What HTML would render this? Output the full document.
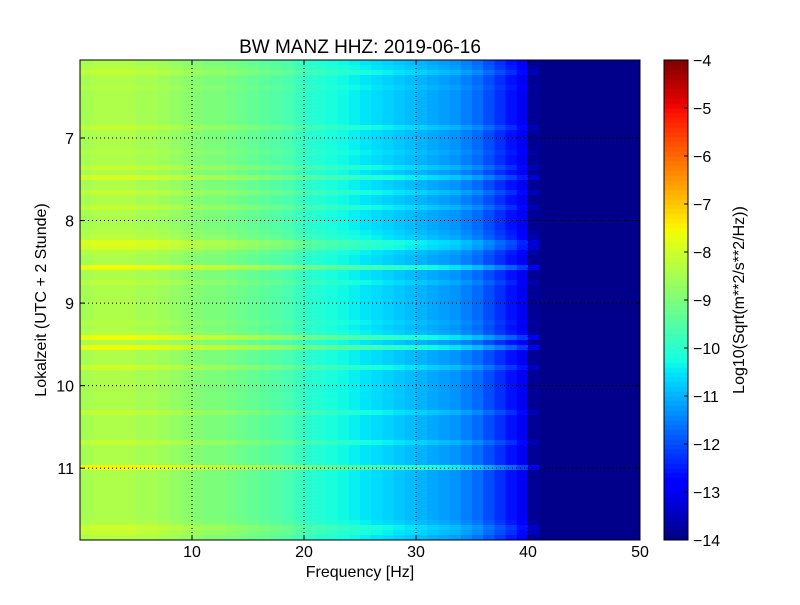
<!DOCTYPE html>
<html><head><meta charset="utf-8"><style>
body{margin:0;background:#fff;font-family:"Liberation Sans",sans-serif}
svg text{font-family:"Liberation Sans",sans-serif}
</style></head><body>
<svg id="chart" width="800" height="600" xmlns="http://www.w3.org/2000/svg">
<rect width="800" height="600" fill="#fff"/>
<text x="360" y="53" font-size="19" text-anchor="middle">BW MANZ HHZ: 2019-06-16</text>
<g id="heat"></g>
<g id="grid"></g>
<rect x="80" y="60" width="560" height="480" fill="none" stroke="#000"/>
<g id="axes"></g>
<text x="360" y="577" font-size="16" text-anchor="middle">Frequency [Hz]</text>
<text transform="translate(46,300) rotate(-90)" font-size="16" text-anchor="middle">Lokalzeit (UTC + 2 Stunde)</text>
<g id="cbar"></g>
<text transform="translate(744,300) rotate(-90)" font-size="16" text-anchor="middle">Log10(Sqrt(m**2/s**2/Hz))</text>
</svg>
<script>
const freqBins=[-8.5,-8.4,-8.4,-8.4,-8.4,-8.5,-8.5,-8.6,-8.7,-8.8,
-8.9,-9.0,-9.0,-9.1,-9.2,-9.3,-9.4,-9.5,-9.6,-9.8,
-10.0,-10.1,-10.2,-10.3,-10.4,-10.5,-10.6,-10.7,-10.8,-10.9,
-11.0,-11.1,-11.2,-11.3,-11.5,-11.7,-12.0,-12.3,-12.6,-13.0,
-13.8,-13.9,-13.9,-13.9,-13.9,-13.9,-13.9,-13.9,-13.9,-13.9];
const rowOffsets=[0,0.1,0.3,0,0,0.1,0,0,0,0,0,0,0,0.3,0,0,0,0,0.1,0,0,0.3,0,0.5,0,0,0.3,0,0,0.3,
0,0,0,0,0.1,0.2,0.6,0.5,0.1,0,0,0.8,0,0,0.2,0,0,0,0,0,0,0,0.1,0,0.1,0.8,0,0.8,0,0,
0,0.4,0,0,0,0,0,0,0,0,0.3,0,0,0,0,0,0.3,0,0,0,0,0.9,0,0,0,0,0,0,0,0,
0,0,0.1,0.4,0.3,0.1];
const xTicks=[10,20,30,40,50];
const yTicks=[7,8,9,10,11];
const cTicks=[-4,-5,-6,-7,-8,-9,-10,-11,-12,-13,-14];
const xMin=0,xMax=50,yMin=6.055,yMax=11.87,cMin=-14,cMax=-4;
const X=f=>80+(f-xMin)/(xMax-xMin)*560;
const Y=h=>60+(h-yMin)/(yMax-yMin)*480;
const C=v=>540-(v-cMin)/(cMax-cMin)*480;
function jet(t){t=Math.max(0,Math.min(1,t));
 const ch=(p)=>Math.round(255*Math.max(0,Math.min(1,p)));
 const r=t<0.35?0:t<0.66?(t-0.35)/0.31:t<0.89?1:1-0.5*(t-0.89)/0.11;
 const g=t<0.125?0:t<0.375?(t-0.125)/0.25:t<0.64?1:t<0.91?1-(t-0.64)/0.27:0;
 const b=t<0.11?0.5+0.5*t/0.11:t<0.34?1:t<0.65?1-(t-0.34)/0.31:0;
 return `rgb(${ch(r)},${ch(g)},${ch(b)})`;}
const NS="http://www.w3.org/2000/svg";
function mk(tag,attrs,parent){const e=document.createElementNS(NS,tag);for(const k in attrs)e.setAttribute(k,attrs[k]);parent.appendChild(e);return e;}
const heat=document.getElementById('heat');
const nR=rowOffsets.length,dh=(yMax-yMin)/nR;
for(let i=0;i<nR;i++){for(let j=0;j<freqBins.length;j++){
 let v=freqBins[j]+(j<41?rowOffsets[i]:0);
 const y0=Y(yMin+i*dh),y1=Y(yMin+(i+1)*dh),x0=X(j),x1=X(j+1);
 const r=mk('rect',{x:x0,y:y0,width:x1-x0+0.5,height:y1-y0+0.5,fill:jet((v-cMin)/(cMax-cMin))},heat);
 
 
}}
const grid=document.getElementById('grid'),axes=document.getElementById('axes');
xTicks.forEach(t=>{const x=X(t);
 if(t<xMax){const l=mk('line',{x1:x,x2:x,y1:60,y2:540,stroke:'#000','stroke-dasharray':'1,3'},grid);
 }
 mk('line',{x1:x,x2:x,y1:540,y2:535,stroke:'#000'},axes);mk('line',{x1:x,x2:x,y1:60,y2:65,stroke:'#000'},axes);
 const tx=mk('text',{x:x,y:557,'font-size':16,'text-anchor':'middle'},axes);tx.textContent=t;
 });
yTicks.forEach(t=>{const y=Y(t);
 const l=mk('line',{x1:80,x2:640,y1:y,y2:y,stroke:'#000','stroke-dasharray':'1,3'},grid);
 
 mk('line',{x1:80,x2:85,y1:y,y2:y,stroke:'#000'},axes);mk('line',{x1:640,x2:635,y1:y,y2:y,stroke:'#000'},axes);
 const tx=mk('text',{x:74,y:y+6,'font-size':16,'text-anchor':'end'},axes);tx.textContent=t;
 });
const cb=document.getElementById('cbar');
for(let k=0;k<100;k++){const v0=cMin+k*(cMax-cMin)/100,v1=v0+(cMax-cMin)/100;
 const r=mk('rect',{x:664,y:C(v1),width:24,height:C(v0)-C(v1)+0.5,fill:jet((v0+0.05-cMin)/(cMax-cMin))},cb);
 }
mk('rect',{x:664,y:60,width:24,height:480,fill:'none',stroke:'#000'},cb);
cTicks.forEach(t=>{const y=C(t);
 mk('line',{x1:688,x2:684,y1:y,y2:y,stroke:'#000'},cb);
 const tx=mk('text',{x:693,y:y+6,'font-size':16},cb);tx.textContent='\u2212'+Math.abs(t);
 });
</script>
</body></html>
